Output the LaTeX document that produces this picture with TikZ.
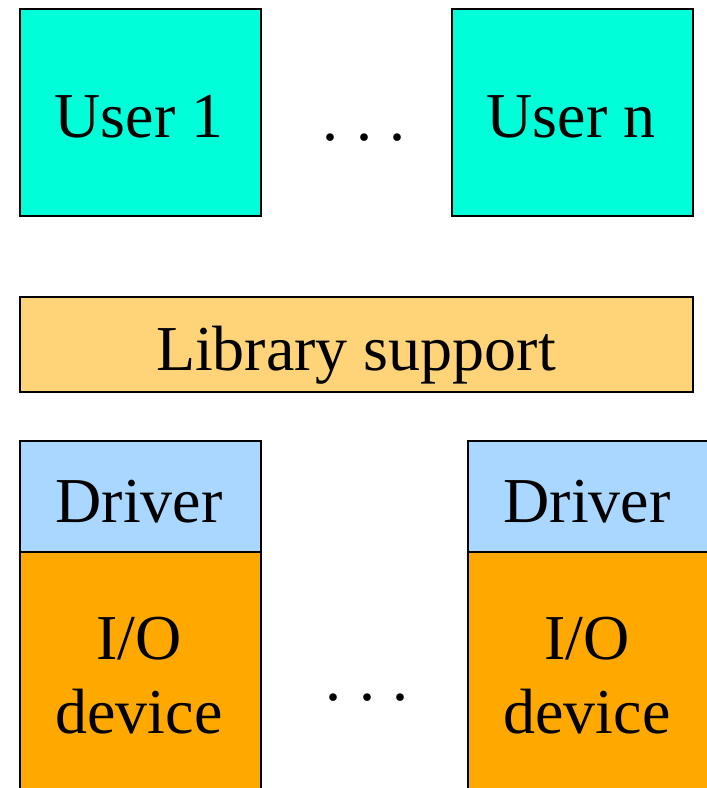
\documentclass[tikz,border=0pt]{standalone}
\usepackage{fontspec}
\setmainfont{Liberation Serif}
\definecolor{usercol}{RGB}{0,255,216}
\definecolor{libcol}{RGB}{255,212,121}
\definecolor{drvcol}{RGB}{170,215,255}
\definecolor{iocol}{RGB}{255,168,0}
\newcommand{\spdots}{.\hspace{0.27em}.\hspace{0.27em}.}
\begin{document}
\begin{tikzpicture}[x=1pt,y=-1pt,
  box/.style={draw=black, line width=2pt, anchor=north west, inner sep=0pt,
    font=\fontsize{64}{73}\selectfont, align=center},
  lbl/.style={font=\fontsize{64}{73}\selectfont, inner sep=0pt, anchor=base, align=center}]
\useasboundingbox (0,0) rectangle (707,788);
\clip (0,0) rectangle (707,788);
% user processes
\node[box, fill=usercol, minimum width=241pt, minimum height=207pt] (u1) at (19,8) {};
\node[box, fill=usercol, minimum width=241pt, minimum height=207pt] (un) at (451,8) {};
\node[lbl] (u1t) at (139,137) {User 1};
\node[lbl] (unt) at (571,137) {User n};
\node[lbl] (dots1) at (364,140) {\spdots};
% library layer
\node[box, fill=libcol, minimum width=673pt, minimum height=95pt] (lib) at (19,296) {};
\node[lbl] (libt) at (356,370) {Library support};
% drivers and devices
\node[box, fill=drvcol, minimum width=241pt, minimum height=111pt] (d1) at (19,440) {};
\node[box, fill=iocol, minimum width=241pt, minimum height=260pt] (io1) at (19,551) {};
\node[box, fill=drvcol, minimum width=260pt, minimum height=111pt] (dn) at (467,440) {};
\node[box, fill=iocol, minimum width=260pt, minimum height=260pt] (ion) at (467,551) {};
\node[lbl] (d1t) at (139,522) {Driver};
\node[lbl] (dnt) at (587,522) {Driver};
\node[lbl] (io1t) at (139,659) {I/O};
\node[lbl] (io1b) at (139,733) {device};
\node[lbl] (iont) at (587,659) {I/O};
\node[lbl] (ionb) at (587,733) {device};
\node[lbl] (dots2) at (367,700) {\spdots};
\end{tikzpicture}
\end{document}
